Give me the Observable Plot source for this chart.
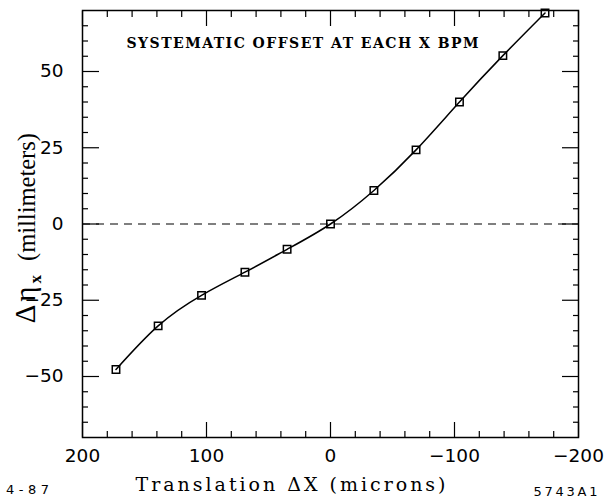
<!DOCTYPE html>
<html>
<head>
<meta charset="utf-8">
<script src="https://cdn.jsdelivr.net/npm/d3@7"></script>
<script src="https://cdn.jsdelivr.net/npm/@observablehq/plot@0.6"></script>
<style>
  html, body { margin: 0; padding: 0; background: #fff; }
</style>
</head>
<body>
<div id="chart"></div>
<script>
// Data
const translationX = [173, 139, 104, 69, 35, 0, -35, -69, -104, -139, -173];   // microns
const deltaEta = [-47.7, -33.4, -23.4, -15.8, -8.3, 0, 11, 24.3, 40, 55.2, 69.2]; // millimeters

const xMajorTicks = [200, 100, 0, -100, -200];
const xMinorTicks = [180, 160, 140, 120, 80, 60, 40, 20, -20, -40, -60, -80, -120, -140, -160, -180];
const yMajorTicks = [-50, -25, 0, 25, 50];
const yMinorTicks = [-65, -60, -55, -45, -40, -35, -30, -20, -15, -10, -5, 5, 10, 15, 20, 30, 35, 40, 45, 55, 60, 65];

const titleText = "SYSTEMATIC OFFSET AT EACH X BPM";
const xLabel = "Translation \u0394X (microns)";
const yLabelMain = "\u0394\u03b7";
const yLabelSub = "x";
const yLabelUnit = "(millimeters)";
const leftNote = "4-87";
const rightNote = "5743A1";

const data = translationX.map((x, i) => ({x, y: deltaEta[i]}));
const fmt = d => d < 0 ? "\u2212" + Math.abs(d) : String(d);
const yLabel = yLabelMain + yLabelSub + " " + yLabelUnit;

const chart = Plot.plot({
  width: 606,
  height: 504,
  marginLeft: 82,
  marginRight: 28,
  marginTop: 10,
  marginBottom: 67,
  style: {fontFamily: "DejaVu Sans", fontSize: "18px", color: "black", background: "white"},
  x: {domain: [200, -200]},
  y: {domain: [-70, 70]},
  marks: [
    Plot.ruleY([0], {strokeDasharray: "8,6", strokeWidth: 1.2}),
    Plot.line(data, {x: "x", y: "y", curve: "natural", strokeWidth: 1.5}),
    Plot.dot(data, {x: "x", y: "y", symbol: "square", r: 4.2, stroke: "black", strokeWidth: 1.5, fill: "none"}),
    // inward ticks
    Plot.axisX({anchor: "bottom", ticks: xMinorTicks, tickSize: -6, fill: "none", label: null, strokeWidth: 1.2}),
    Plot.axisX({anchor: "top", ticks: xMinorTicks, tickSize: -6, fill: "none", label: null, strokeWidth: 1.2}),
    Plot.axisX({anchor: "bottom", ticks: xMajorTicks, tickSize: -15, fill: "none", label: null, strokeWidth: 1.2}),
    Plot.axisX({anchor: "top", ticks: xMajorTicks, tickSize: -15, fill: "none", label: null, strokeWidth: 1.2}),
    Plot.axisY({anchor: "left", ticks: yMinorTicks, tickSize: -6, fill: "none", label: null, strokeWidth: 1.2}),
    Plot.axisY({anchor: "right", ticks: yMinorTicks, tickSize: -6, fill: "none", label: null, strokeWidth: 1.2}),
    Plot.axisY({anchor: "left", ticks: yMajorTicks, tickSize: -17, fill: "none", label: null, strokeWidth: 1.2}),
    Plot.axisY({anchor: "right", ticks: yMajorTicks, tickSize: -17, fill: "none", label: null, strokeWidth: 1.2}),
    // tick labels
    Plot.axisX({anchor: "bottom", ticks: xMajorTicks, tickSize: 0, tickPadding: 11, tickFormat: fmt, label: null, fontSize: 18.5}),
    Plot.axisY({anchor: "left", ticks: yMajorTicks, tickSize: 0, tickPadding: 19, tickFormat: fmt, label: null, fontSize: 18.5}),
    Plot.frame({strokeWidth: 1.5}),
    // texts
    Plot.text([titleText], {frameAnchor: "top", textAnchor: "middle", dx: -28, dy: 28, fontFamily: "DejaVu Serif", fontWeight: "bold", fontSize: 14}),
    Plot.text([xLabel], {frameAnchor: "bottom", textAnchor: "middle", dx: -40, dy: 53, fontFamily: "DejaVu Serif", fontSize: 19}),
    Plot.text([yLabel], {frameAnchor: "left", textAnchor: "end", lineAnchor: "bottom", dx: -48, dy: -91, rotate: -90, fontFamily: "Liberation Serif", fontSize: 24}),
    Plot.text([leftNote], {frameAnchor: "bottom-left", textAnchor: "middle", dx: -55, dy: 56, fontFamily: "DejaVu Sans", fontSize: 13}),
    Plot.text([rightNote], {frameAnchor: "bottom-right", textAnchor: "middle", dx: -13, dy: 58, fontFamily: "DejaVu Sans", fontSize: 13})
  ]
});

document.getElementById("chart").appendChild(chart);

const texts = [...chart.querySelectorAll("text")];

// y label: Δη with bold subscript x, unit sized to the reference length
const ns = "http://www.w3.org/2000/svg";
const yt = texts.find(t => t.textContent === yLabel);
if (yt) {
  yt.textContent = "";
  const add = (txt, attrs) => {
    const s = document.createElementNS(ns, "tspan");
    s.textContent = txt;
    for (const k in attrs) s.setAttribute(k, attrs[k]);
    yt.appendChild(s);
    return s;
  };
  const main = add(yLabelMain, {"font-size": 29, "letter-spacing": 3});
  const sub = add(yLabelSub, {"font-size": 17, "font-weight": "bold", dy: 6, dx: 0});
  const unit = add(yLabelUnit, {"font-size": 24, dy: -6, dx: 14});
  const ul = unit.getComputedTextLength();
  if (ul > 0) unit.setAttribute("font-size", (24 * 128 / ul).toFixed(2));
}

// stretch letter spacing of some texts to the widths seen in the reference
const targetWidths = new Map([[titleText, 352], [xLabel, 310], [leftNote, 43], [rightNote, 64]]);
texts.forEach(t => {
  const w = targetWidths.get(t.textContent);
  if (w === undefined) return;
  const n = t.textContent.length;
  const len = t.getComputedTextLength();
  const ls = (w - len) / (n - 1);
  if (ls > 0) {
    t.style.letterSpacing = ls + "px";
    t.setAttribute("dx", (ls / 2) + "px");
  }
});
</script>
</body>
</html>
